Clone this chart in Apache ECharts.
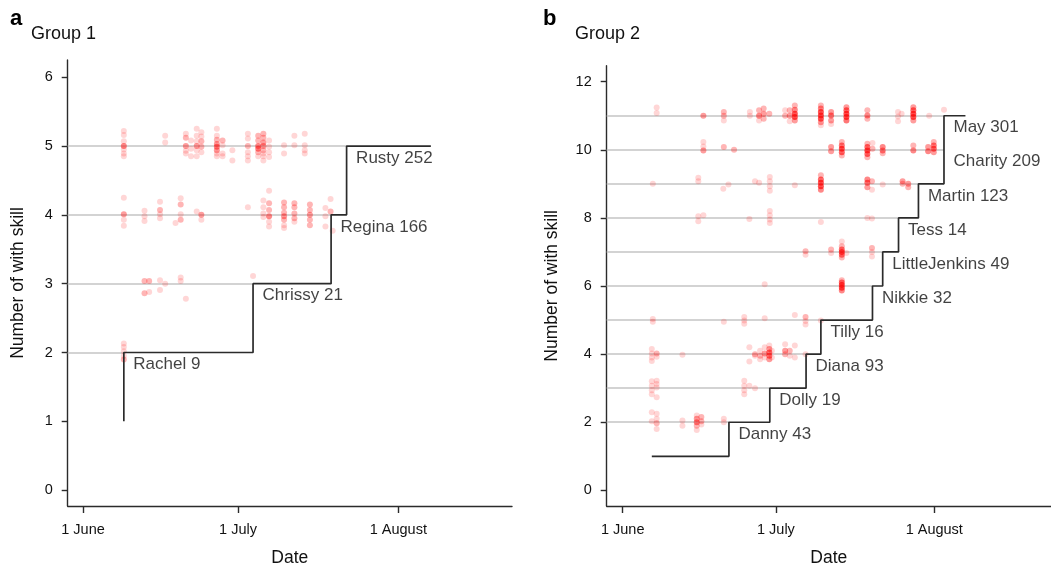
<!DOCTYPE html>
<html><head><meta charset="utf-8">
<script src="https://cdn.jsdelivr.net/npm/echarts@6/dist/echarts.min.js"></script>
<style>html,body{margin:0;padding:0;background:#fff}#c{width:1051px;height:566px}</style>
</head><body><div id="c"></div>
<script>
// ---- axis ticks ----
const xTickDays = [0, 30, 61];              // days after 1 June
const xTickLabels = ['1 June', '1 July', '1 August'];
const g1YTicks = [0, 1, 2, 3, 4, 5, 6];
const g2YTicks = [0, 2, 4, 6, 8, 10, 12];

// ---- Group 1 learners (step) ----
const g1Names = ['Rachel', 'Chrissy', 'Regina', 'Rusty'];
const g1Counts = [9, 21, 166, 252];
const g1Levels = [2, 3, 4, 5];
const g1Days = [7.9, 32.9, 48.0, 51.0];
const g1Start = [7.9, 1];
const g1End = 67.3;

// ---- Group 2 learners (step) ----
const g2Names = ['Danny', 'Dolly', 'Diana', 'Tilly', 'Nikkie', 'LittleJenkins', 'Tess', 'Martin', 'Charity', 'May'];
const g2Counts = [43, 19, 93, 16, 32, 49, 14, 123, 209, 301];
const g2Levels = [2, 3, 4, 5, 6, 7, 8, 9, 10, 11];
const g2Days = [20.8, 28.8, 35.9, 38.8, 48.9, 50.9, 54.0, 57.9, 62.9, 62.9];
const g2Start = [5.7, 1];
const g2End = 67.1;

// ---- observations: [day after 1 June, number with skill (jittered), stacked count] ----
const g1Obs = [
  [7.9,5.22,1],[7.9,5.16,1],[7.9,5.07,1],[7.9,5.0,4],[7.9,4.95,1],[7.9,4.89,1],[7.9,4.85,1],
  [15.9,5.15,1],[15.9,5.05,1],
  [19.9,5.18,1],[19.9,5.12,2],[19.9,5.0,3],[19.9,4.93,1],[19.9,4.89,1],
  [20.9,5.08,1],[20.9,4.96,1],[20.9,4.85,1],
  [22.0,5.25,1],[22.0,5.15,1],[22.0,5.07,1],[22.0,5.0,3],[22.0,4.94,1],[22.0,4.85,1],
  [22.9,5.2,1],[22.9,5.14,1],[22.9,5.07,2],[22.9,4.99,2],[22.9,4.91,1],
  [25.9,5.25,1],[25.9,5.15,1],[25.9,5.09,2],[25.9,5.03,3],[25.9,4.99,4],[25.9,4.94,3],[25.9,4.89,1],[25.9,4.85,1],
  [27.0,5.08,2],[27.0,5.01,1],[27.0,4.89,1],[27.0,4.85,1],
  [28.9,4.94,1],[28.9,4.79,1],
  [31.9,5.18,1],[31.9,5.11,1],[31.9,5.0,2],[31.9,4.91,1],[31.9,4.85,1],[31.9,4.79,1],
  [33.9,5.15,2],[33.9,5.08,2],[33.9,5.0,4],[33.9,4.96,4],[33.9,4.91,2],[33.9,4.85,1],
  [34.9,5.18,2],[34.9,5.12,2],[34.9,5.05,3],[34.9,5.0,3],[34.9,4.94,2],[34.9,4.89,1],[34.9,4.85,1],[34.9,4.79,1],
  [36.0,5.08,1],[36.0,4.99,1],[36.0,4.91,1],[36.0,4.84,1],
  [38.9,5.01,1],[38.9,4.89,1],
  [40.9,5.15,1],[40.9,5.01,1],
  [42.9,5.18,1],[42.9,5.01,1],[42.9,4.94,1],[42.9,4.89,1],
  [7.9,4.25,1],[7.9,4.01,3],[7.9,3.93,1],[7.9,3.84,1],
  [11.9,4.06,1],[11.9,3.98,1],[11.9,3.91,1],
  [14.9,4.19,1],[14.9,4.07,2],[14.9,4.01,1],[14.9,3.95,1],
  [17.9,3.88,1],
  [18.9,4.24,1],[18.9,4.15,2],[18.9,4.01,1],[18.9,3.93,2],
  [22.0,4.05,1],
  [22.9,4.0,3],[22.9,3.93,1],
  [31.9,4.11,1],
  [34.9,4.21,1],[34.9,4.11,1],[34.9,4.02,1],[34.9,3.97,1],
  [36.0,4.35,1],[36.0,4.17,2],[36.0,4.07,2],[36.0,3.98,4],[36.0,3.9,1],[36.0,3.83,1],
  [38.9,4.18,2],[38.9,4.11,2],[38.9,4.03,2],[38.9,3.98,3],[38.9,3.93,2],[38.9,3.85,1],[38.9,3.81,1],
  [40.9,4.17,2],[40.9,4.11,2],[40.9,4.02,2],[40.9,3.95,2],[40.9,3.9,1],
  [43.9,4.15,2],[43.9,4.07,2],[43.9,4.0,3],[43.9,3.93,2],[43.9,3.85,2],
  [46.9,4.1,1],[46.9,3.98,1],[46.9,3.83,1],
  [47.9,4.23,1],[47.9,4.05,2],[48.3,3.77,1],
  [11.9,3.04,2],[11.9,2.86,2],[12.8,3.04,2],[12.8,2.88,1],
  [14.9,3.05,1],[14.9,2.91,1],[15.9,3.0,1],
  [18.9,3.09,1],[18.9,3.04,1],[19.9,2.78,1],[32.9,3.11,1],
  [7.9,2.13,1],[7.9,2.08,1],[7.9,2.02,1],[7.9,1.95,1],[7.9,1.9,2]
];

const g2Obs = [
  [6.65,11.24,1],[6.65,11.08,1],[15.8,11.0,3],
  [19.8,11.11,2],[19.8,11.0,2],[19.8,10.86,1],
  [24.9,11.11,1],[24.9,11.0,1],
  [26.7,11.16,2],[26.7,11.0,4],[26.7,10.86,1],
  [27.6,11.21,2],[27.6,11.06,3],[27.6,10.91,2],[28.7,11.06,2],
  [31.8,11.16,1],[31.8,11.0,2],
  [32.7,11.16,2],[32.7,11.0,3],[32.7,10.84,1],
  [33.7,11.3,2],[33.7,11.18,4],[33.7,11.06,8],[33.7,10.96,8],[33.7,10.86,3],
  [38.8,11.3,2],[38.8,11.21,4],[38.8,11.11,8],[38.8,11.01,9],[38.8,10.91,8],[38.8,10.81,3],[38.8,10.72,1],
  [40.8,11.11,3],[40.8,11.01,5],[40.8,10.86,3],[40.8,10.76,1],
  [43.8,11.25,3],[43.8,11.16,6],[43.8,11.06,9],[43.8,10.96,9],[43.8,10.86,5],
  [47.9,11.16,2],[47.9,11.01,4],[47.9,10.91,2],
  [53.9,11.11,1],[53.9,10.98,1],[53.9,10.84,1],[54.6,11.06,1],
  [56.9,11.25,3],[56.9,11.16,6],[56.9,11.06,9],[56.9,10.96,8],[56.9,10.86,3],
  [60.0,11.0,1],[62.9,11.18,1],
  [15.8,10.23,1],[15.8,10.1,1],[15.8,9.98,3],
  [19.8,10.08,2],[21.8,10.0,2],
  [40.8,10.08,3],[40.8,9.96,3],
  [42.9,10.23,2],[42.9,10.13,5],[42.9,10.03,8],[42.9,9.93,6],[42.9,9.83,2],
  [47.9,10.18,2],[47.9,10.08,6],[47.9,9.98,9],[47.9,9.88,6],[47.9,9.78,2],
  [48.9,10.2,1],[48.9,10.03,2],
  [50.9,10.08,4],[50.9,9.98,4],[50.9,9.9,2],
  [56.9,10.13,2],[56.9,9.98,4],
  [59.8,10.08,3],[59.8,9.96,4],
  [60.9,10.23,2],[60.9,10.13,5],[60.9,10.03,6],[60.9,9.93,3],
  [5.9,9.0,1],[14.8,9.18,1],[14.8,9.08,1],[19.7,8.86,1],[20.7,8.98,1],
  [25.9,9.08,1],[26.7,9.03,1],
  [28.8,9.2,1],[28.8,9.08,1],[28.8,8.93,1],[28.8,8.8,1],
  [33.7,8.96,1],
  [38.8,9.25,2],[38.8,9.13,6],[38.8,9.03,8],[38.8,8.93,8],[38.8,8.83,4],
  [47.9,9.13,4],[47.9,9.03,5],[47.9,8.9,3],
  [48.8,9.08,2],[48.8,8.83,1],[50.9,8.98,1],
  [54.8,9.08,3],[54.8,9.0,2],[55.9,9.0,3],[55.9,8.9,2],
  [14.8,8.05,1],[14.8,7.9,1],[15.8,8.08,1],[24.8,7.97,1],
  [28.8,8.2,1],[28.8,8.08,1],[28.8,7.95,1],[28.8,7.85,1],
  [38.8,7.88,1],[47.9,8.0,1],[48.8,7.98,1],
  [35.8,7.02,2],[35.8,6.92,1],[40.8,7.07,2],[40.8,6.97,1],
  [42.9,7.31,1],[42.9,7.17,2],[42.9,7.07,5],[42.9,7.0,8],[42.9,6.92,5],[42.9,6.84,2],
  [43.8,6.97,1],[48.8,7.12,2],[48.8,7.0,1],[48.8,6.87,1],
  [27.8,6.05,1],
  [42.9,6.17,2],[42.9,6.1,5],[42.9,6.03,8],[42.9,5.95,8],[42.9,5.87,4],
  [5.9,5.03,1],[5.9,4.95,1],[19.8,4.95,1],
  [23.8,5.09,1],[23.8,4.99,1],[23.8,4.89,1],
  [27.8,5.05,1],[33.7,5.15,1],
  [35.8,5.09,2],[35.8,4.97,1],[35.8,4.87,1],[38.8,4.99,1],
  [5.7,4.15,1],[5.7,4.02,1],[5.7,3.9,1],[5.7,3.8,1],
  [6.65,4.02,2],[6.65,3.92,1],[11.7,3.98,1],
  [24.8,4.2,1],[24.8,3.78,1],[25.9,4.0,2],[25.9,3.95,1],
  [26.9,4.1,1],[26.9,3.95,2],[26.9,3.85,1],
  [27.8,4.2,1],[27.8,4.02,3],[27.8,3.9,1],
  [28.7,4.25,1],[28.7,4.15,3],[28.7,4.05,5],[28.7,3.95,5],[28.7,3.85,3],
  [29.2,4.1,1],[29.2,3.9,1],
  [31.8,4.29,1],[31.8,4.1,3],[31.8,4.0,2],
  [32.7,4.1,2],[32.7,3.95,1],[33.7,4.25,1],[33.7,3.9,1],[35.8,4.0,1],
  [5.7,3.2,1],[5.7,3.07,1],[5.7,2.94,1],[5.7,2.82,1],
  [6.65,3.22,1],[6.65,3.12,1],[6.65,3.02,1],[6.65,2.73,1],
  [23.8,3.22,1],[23.8,3.07,1],[23.8,2.94,1],[23.8,2.82,1],
  [24.8,3.07,1],[25.9,3.0,1],
  [5.7,2.29,1],[5.7,2.03,1],
  [6.65,2.25,1],[6.65,2.1,1],[6.65,1.97,2],[6.65,1.8,1],
  [11.7,2.05,1],[11.7,1.9,1],
  [14.5,2.2,1],[14.5,2.1,3],[14.5,2.0,4],[14.5,1.9,2],[14.5,1.77,1],
  [15.4,2.15,2],[15.4,2.03,2],[15.4,1.93,1],
  [19.8,2.1,1],[19.8,2.0,1]
];

// ---- helpers ----
const FONT = 'Liberation Sans, Arial, sans-serif';
const TXT = '#111';
const AX = '#2b2b2b';

function stepPoints(start, levels, days, end) {
  const pts = [[start[0], start[1]]];
  let prev = start[1];
  for (let i = 0; i < levels.length; i++) {
    pts.push([days[i], prev]);
    pts.push([days[i], levels[i]]);
    prev = levels[i];
  }
  pts.push([end, prev]);
  return pts;
}
function guideLines(levels, days, xmin) {
  return levels.map((l, i) => ({ coords: [[xmin, l], [days[i], l]] }));
}
function labelData(names, counts, levels, days) {
  return names.map((n, i) => [days[i], levels[i], n + ' ' + counts[i]]);
}
function dotColor(p) {
  const a = 1 - Math.pow(0.8, p.data[2]);
  return 'rgba(255,0,0,' + a.toFixed(3) + ')';
}

const x1 = { min: -2.96, max: 83.0 };
const x2 = { min: -3.13, max: 83.85 };

function makeX(idx, rng) {
  return {
    type: 'value', gridIndex: idx, min: rng.min, max: rng.max,
    name: 'Date', nameLocation: 'middle', nameGap: 43,
    nameTextStyle: { fontSize: 17.5, color: TXT, fontFamily: FONT },
    axisLine: { show: true, onZero: false, lineStyle: { color: AX, width: 1.4 } },
    axisTick: { show: true, length: 7, customValues: xTickDays, lineStyle: { color: AX, width: 1.4 } },
    axisLabel: { customValues: xTickDays, margin: 16, fontSize: 14.5, color: TXT, fontFamily: FONT,
      formatter: v => xTickLabels[xTickDays.indexOf(Math.round(v))] || '' },
    splitLine: { show: false }
  };
}
function makeY(idx, rng, ticks, gap) {
  return {
    type: 'value', gridIndex: idx, min: rng[0], max: rng[1],
    name: 'Number of with skill', nameLocation: 'middle', nameGap: gap,
    nameTextStyle: { fontSize: 17.5, color: TXT, fontFamily: FONT },
    axisLine: { show: true, onZero: false, lineStyle: { color: AX, width: 1.4 } },
    axisTick: { show: true, length: 6, customValues: ticks, lineStyle: { color: AX, width: 1.4 } },
    axisLabel: { customValues: ticks, margin: 15, fontSize: 14.5, color: TXT, fontFamily: FONT },
    splitLine: { show: false }
  };
}

function panelSeries(idx, obs, start, levels, days, end, names, counts, xmin) {
  return [
    { type: 'lines', coordinateSystem: 'cartesian2d', xAxisIndex: idx, yAxisIndex: idx, silent: true,
      data: guideLines(levels, days, xmin), lineStyle: { color: '#c4c4c4', width: 1.6, opacity: 1 }, z: 1 },
    { type: 'scatter', xAxisIndex: idx, yAxisIndex: idx, data: obs, symbolSize: 6, silent: true,
      itemStyle: { color: dotColor }, z: 2 },
    { type: 'line', xAxisIndex: idx, yAxisIndex: idx, data: stepPoints(start, levels, days, end),
      symbol: 'none', silent: true, lineStyle: { color: '#2b2b2b', width: 1.7 }, z: 3 },
    { type: 'scatter', xAxisIndex: idx, yAxisIndex: idx, data: labelData(names, counts, levels, days),
      symbolSize: 1, silent: true, itemStyle: { color: 'transparent' }, z: 4,
      label: { show: true, position: 'right', distance: 0, offset: [9, 12], formatter: p => p.data[2],
        fontSize: 17, color: TXT, fontFamily: FONT } }
  ];
}

const chart = echarts.init(document.getElementById('c'), null, { renderer: 'canvas' });
chart.setOption({
  animation: false,
  backgroundColor: '#fff',
  title: [
    { text: 'a', left: 10, top: 8, padding: 0, textStyle: { fontSize: 22, fontWeight: 'bold', color: '#000', fontFamily: FONT } },
    { text: 'Group 1', left: 31, top: 25, padding: 0, textStyle: { fontSize: 18, fontWeight: 'normal', color: TXT, fontFamily: FONT } },
    { text: 'b', left: 543, top: 8, padding: 0, textStyle: { fontSize: 22, fontWeight: 'bold', color: '#000', fontFamily: FONT } },
    { text: 'Group 2', left: 575, top: 25, padding: 0, textStyle: { fontSize: 18, fontWeight: 'normal', color: TXT, fontFamily: FONT } }
  ],
  grid: [
    { left: 67.7, top: 60, width: 444.3, height: 446, containLabel: false, outerBoundsMode: 'none' },
    { left: 606.7, top: 65.7, width: 444.3, height: 440.3, containLabel: false, outerBoundsMode: 'none' }
  ],
  xAxis: [makeX(0, x1), makeX(1, x2)],
  yAxis: [makeY(0, [-0.23, 6.25], g1YTicks, 41), makeY(1, [-0.46, 12.47], g2YTicks, 46)],
  series: [
    ...panelSeries(0, g1Obs, g1Start, g1Levels, g1Days, g1End, g1Names, g1Counts, x1.min),
    ...panelSeries(1, g2Obs, g2Start, g2Levels, g2Days, g2End, g2Names, g2Counts, x2.min)
  ]
});
</script></body></html>
